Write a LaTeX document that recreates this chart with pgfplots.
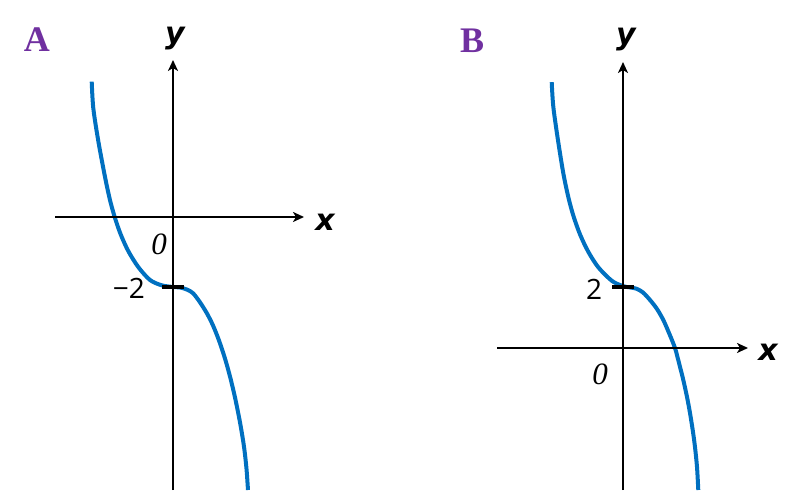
\documentclass[border=0pt]{standalone}
\usepackage{pgfplots}
\usepackage{pgfplotstable}
\pgfplotsset{compat=1.18}
\usetikzlibrary{arrows.meta}
\usepackage{fontspec}
\newfontfamily\axfont{DejaVu Sans}
\newfontfamily\numfont{Open Sans}
\newfontfamily\serfont{Liberation Serif}
\definecolor{curveblue}{HTML}{0070C0}
\definecolor{panelpurple}{HTML}{7030A0}
\pgfplotsset{myaxis/.style={
  axis lines=middle, clip=false, anchor=origin, axis on top,
  axis line style={line width=2.2pt,-{Stealth[length=11pt,width=10pt,inset=3pt]}},
  xtick=\empty, tick align=center, major tick length=22pt,
  major tick style={black, line width=3.5pt},
  yticklabels={}, xlabel={}, ylabel={}
}}
\tikzset{
  axlab/.style={inner sep=0pt, font=\axfont\fontsize{30}{32}\selectfont\bfseries\itshape},
  numlab/.style={inner sep=0pt, font=\numfont\fontsize{28}{30}\selectfont},
  zerolab/.style={inner sep=0pt, font=\serfont\fontsize{31}{33}\selectfont\itshape},
  panlab/.style={inner sep=0pt, text=panelpurple, font=\serfont\fontsize{36}{38}\selectfont\bfseries}
}
\pgfplotstableread{
x y
-1.767 3.866
-1.733 3.114
-1.624 2.171
-1.478 1.143
-1.370 0.486
-1.261 -0.029
-1.137 -0.497
-0.972 -0.974
-0.754 -1.431
-0.500 -1.800
-0.246 -1.951
0 -2
0.152 -2.014
0.304 -2.074
0.435 -2.177
0.587 -2.437
0.739 -2.757
0.870 -3.100
1.000 -3.529
1.130 -4.043
1.239 -4.557
1.348 -5.157
1.457 -5.871
1.543 -6.557
1.598 -7.200
1.630 -7.800
}\curveA
\pgfplotstableread{
x y
-1.726 8.715
-1.688 7.918
-1.581 6.872
-1.446 5.734
-1.324 4.948
-1.203 4.341
-1.041 3.725
-0.840 3.154
-0.598 2.646
-0.274 2.207
-0.031 2.043
0.097 2
0.169 1.987
0.332 1.941
0.484 1.820
0.654 1.574
0.823 1.279
0.976 0.918
1.114 0.492
1.259 0
1.356 -0.492
1.460 -1.049
1.550 -1.607
1.622 -2.131
1.695 -2.754
1.743 -3.246
1.792 -3.902
1.823 -4.656
}\curveB
\begin{document}
\begin{tikzpicture}
\useasboundingbox (0,0) rectangle (801pt,492pt);
\begin{axis}[myaxis, at={(173pt,275pt)}, x=46pt, y=35pt,
  xmin=-2.565, xmax=2.848, ymin=-7.8, ymax=4.486, ytick={-2}]
\addplot[curveblue, line width=4pt, smooth] table {\curveA};
\node[panlab] at (axis cs:-2.957,5.057) {A};
\node[axlab] at (axis cs:0.043,5.086) {y};
\node[axlab] at (axis cs:3.304,-0.143) {x};
\node[zerolab] at (axis cs:-0.304,-0.771) {0};
\node[numlab] at (axis cs:-0.957,-2.03) {−2};
\end{axis}
\begin{axis}[myaxis, at={(623pt,144pt)}, x=41.3pt, y=30.5pt,
  xmin=-3.051, xmax=3.027, ymin=-4.656, ymax=9.377, ytick={2}]
\addplot[curveblue, line width=4pt, smooth] table {\curveB};
\node[panlab] at (axis cs:-3.656,10.066) {B};
\node[axlab] at (axis cs:0.073,10.098) {y};
\node[axlab] at (axis cs:3.511,-0.131) {x};
\node[zerolab] at (axis cs:-0.557,-0.852) {0};
\node[numlab] at (axis cs:-0.702,1.934) {2};
\end{axis}
\end{tikzpicture}
\end{document}
